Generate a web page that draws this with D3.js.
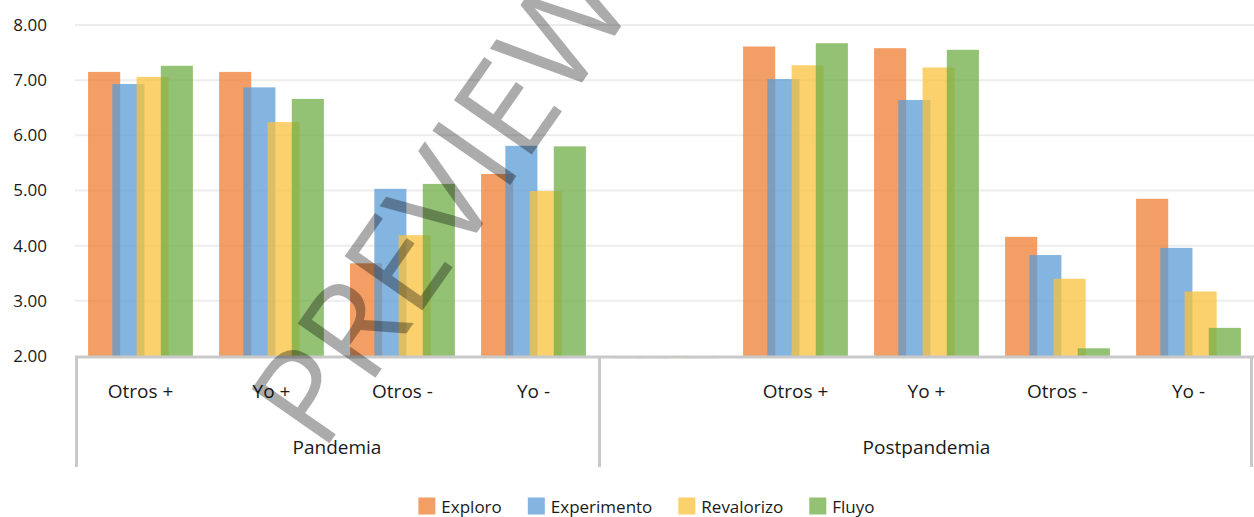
<!DOCTYPE html>
<html>
<head>
<meta charset="utf-8">
<script src="https://cdn.jsdelivr.net/npm/d3@7"></script>
<style>
  html, body { margin: 0; padding: 0; background: #fff; }
  svg { display: block; }
  text { font-family: "Open Sans", "Noto Sans", sans-serif; }
</style>
</head>
<body>
<svg id="chart" width="1254" height="517"></svg>
<script>
// Periods and the sub-categories drawn inside each of them
const periods = ["Pandemia", "Postpandemia"];
const categories = ["Otros +", "Yo +", "Otros -", "Yo -", "", "Otros +", "Yo +", "Otros -", "Yo -"];
const categoryPeriod = [0, 0, 0, 0, 1, 1, 1, 1, 1];

const seriesNames = ["Exploro", "Experimento", "Revalorizo", "Fluyo"];
const seriesColors = ["#ED7D31", "#5B9BD5", "#F9C23C", "#70AD47"];

// Mean scores per category (empty slot opens the second period)
const exploro     = [7.15, 7.15, 3.68, 5.30, 0, 7.61, 7.58, 4.16, 4.85];
const experimento = [6.93, 6.87, 5.03, 5.81, 0, 7.02, 6.64, 3.83, 3.96];
const revalorizo  = [7.06, 6.24, 4.19, 4.99, 0, 7.27, 7.23, 3.40, 3.17];
const fluyo       = [7.26, 6.66, 5.12, 5.80, 0, 7.67, 7.55, 2.14, 2.51];
const seriesValues = [exploro, experimento, revalorizo, fluyo];

const yTicks = [2, 3, 4, 5, 6, 7, 8];

const svg = d3.select("#chart");
const W = 1254;
const plot = { left: 75, right: 1254, top: 25, bottom: 356 };

const x = d3.scaleBand()
  .domain(d3.range(categories.length))
  .range([plot.left, plot.right])
  .paddingInner(0).paddingOuter(0);

const y = d3.scaleLinear().domain([2, 8]).range([plot.bottom, plot.top]);

const bw = x.bandwidth();
const barW = bw * 0.245;
const xSub = d3.scaleLinear()
  .domain([0, seriesNames.length - 1])
  .range([bw * 0.1, bw * 0.9 - barW]);

// Horizontal gridlines
svg.append("g")
  .selectAll("line")
  .data(yTicks.filter(t => t > 2))
  .join("line")
  .attr("x1", plot.left).attr("x2", plot.right)
  .attr("y1", d => y(d)).attr("y2", d => y(d))
  .attr("stroke", "#ededed").attr("stroke-width", 2);

// Y tick labels
const yAxis = d3.axisLeft(y).tickValues(yTicks).tickFormat(d3.format(".2f")).tickSize(0).tickPadding(0);
const yg = svg.append("g").attr("transform", "translate(47,0)").call(yAxis);
yg.select(".domain").remove();
yg.selectAll("text")
  .attr("font-size", 17)
  .attr("fill", "#1a1a1a")
  .style("font-family", "'Open Sans', sans-serif");

// Bars (semi-transparent, overlapping within each category)
svg.append("clipPath").attr("id", "plotClip")
  .append("rect")
  .attr("x", plot.left).attr("y", 0)
  .attr("width", plot.right - plot.left).attr("height", plot.bottom + 2.5);

const barsG = svg.append("g").attr("clip-path", "url(#plotClip)");
seriesValues.forEach((vals, si) => {
  barsG.append("g")
    .selectAll("rect")
    .data(vals.map((v, i) => ({ v, i })))
    .join("rect")
    .attr("x", d => x(d.i) + xSub(si))
    .attr("width", barW)
    .attr("y", d => Math.min(y(d.v), y(2)))
    .attr("height", d => Math.abs(y(2) - y(d.v)))
    .attr("fill", seriesColors[si])
    .attr("fill-opacity", d => d.v >= 2 ? 0.75 : 0.22);
});

// Category axis: baseline and period separators
const axisColor = "#c9c9c9";
svg.append("line")
  .attr("x1", plot.left).attr("x2", plot.right)
  .attr("y1", plot.bottom + 1).attr("y2", plot.bottom + 1)
  .attr("stroke", axisColor).attr("stroke-width", 3);

const periodEdges = [x(0), x(4), plot.right];
svg.append("g")
  .selectAll("line")
  .data(periodEdges)
  .join("line")
  .attr("x1", (d, i) => i === 0 ? d + 1.5 : (i === 2 ? d - 2.5 : d + 0.5))
  .attr("x2", (d, i) => i === 0 ? d + 1.5 : (i === 2 ? d - 2.5 : d + 0.5))
  .attr("y1", plot.bottom).attr("y2", 467)
  .attr("stroke", axisColor).attr("stroke-width", 3);

// Category labels
svg.append("g")
  .selectAll("text")
  .data(categories.map((c, i) => ({ c, i })).filter(d => d.c !== ""))
  .join("text")
  .attr("x", d => x(d.i) + bw / 2)
  .attr("y", 391)
  .attr("text-anchor", "middle")
  .attr("dominant-baseline", "central")
  .attr("font-size", 19)
  .attr("fill", "#1a1a1a")
  .text(d => d.c);

// Period labels
svg.append("g")
  .selectAll("text")
  .data(periods)
  .join("text")
  .attr("x", (p, pi) => {
    const idx = categoryPeriod.map((v, i) => v === pi ? i : -1).filter(i => i >= 0);
    return (x(idx[0]) + x(idx[idx.length - 1]) + bw) / 2;
  })
  .attr("y", 447)
  .attr("text-anchor", "middle")
  .attr("dominant-baseline", "central")
  .attr("font-size", 19)
  .attr("fill", "#1a1a1a")
  .text(d => d);

// Legend
const legend = svg.append("g");
const items = legend.selectAll("g").data(seriesNames).join("g");
items.append("rect")
  .attr("width", 17).attr("height", 17).attr("y", -8.5)
  .attr("fill", (d, i) => seriesColors[i]).attr("fill-opacity", 0.75);
items.append("text")
  .attr("x", 23).attr("y", 0)
  .attr("dominant-baseline", "central")
  .attr("font-size", 17)
  .attr("fill", "#1a1a1a")
  .text(d => d);
let cursor = 0;
const offsets = [];
items.each(function () {
  offsets.push(cursor);
  const tw = d3.select(this).select("text").node().getComputedTextLength();
  cursor += 23 + tw + 26;
});
const totalW = cursor - 26;
items.attr("transform", (d, i) => `translate(${offsets[i]},0)`);
legend.attr("transform", `translate(${W * 0.5155 - totalW / 2},506)`);

// Diagonal watermark
svg.append("text")
  .attr("transform", "translate(322,454) rotate(-55)")
  .attr("font-size", 133)
  .attr("font-family", "'Liberation Sans', Arial, sans-serif")
  .attr("fill", "#000")
  .attr("fill-opacity", 0.33)
  .text("PREVIEW");
</script>
</body>
</html>
